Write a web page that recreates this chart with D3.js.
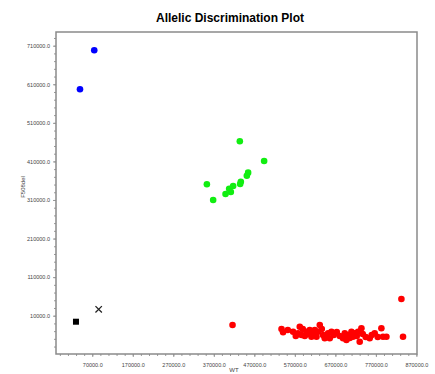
<!DOCTYPE html>
<html>
<head>
<meta charset="utf-8">
<script src="https://cdn.jsdelivr.net/npm/d3@7"></script>
<style>
  body { margin: 0; background: #fff; }
  text { font-family: Arial, "Liberation Sans", sans-serif; }
</style>
</head>
<body>
<script>
// chart data (WT signal, F508del signal)
var f508delX = [74900, 39700];
var f508delY = [698100, 597000];

var heteroX = [434200, 494200, 352900, 368400, 454700, 451500, 436700, 435000, 417700, 407900, 412000, 399000];
var heteroY = [462200, 411100, 350700, 310000, 380800, 373000, 357400, 351500, 346300, 339300, 330700, 325500];

var wtX = [416200, 833000, 837000,
  537100, 541000, 565700, 582200, 578000, 586400, 598700, 606800, 615000, 631500, 627300, 639600,
  652000, 656200, 643800, 660400, 693200, 689000, 701300, 709700, 717800, 726000, 734300, 730100,
  754800, 767100, 783600, 787600, 796000, 611000, 594500, 623400, 697300, 713600,
  552600, 572300, 589600, 601900, 619200, 636500, 648800, 666100, 673500, 680900, 705600, 722800,
  737600, 745000, 759800, 774600];
var wtY = [-14100, 53300, -44400,
  -24500, -33000, -31500, -18500, -35600, -40000, -31500, -27100, -35600, -14100, -31500, -40000,
  -35600, -48600, -48600, -31500, -35600, -48600, -40000, -31500, -35600, -31500, -22700, -57400,
  -48600, -35600, -22700, -44500, -44500, -44500, -42600, -44500, -53000, -44500,
  -27100, -42600, -24500, -37500, -27100, -24500, -42600, -40000, -32200, -42600, -47800, -42600,
  -37500, -45300, -40000, -45300];

var ntcX = [29800];
var ntcY = [-5600];
var undetX = [85800];
var undetY = [26600];

var xMajor = [70000, 170000, 270000, 370000, 470000, 570000, 670000, 770000, 870000];
var yMajor = [10000, 110000, 210000, 310000, 410000, 510000, 610000, 710000];

// chart dimensions
var svgWidth = 435;
var svgHeight = 374;
var margin = { top: 32, right: 18, bottom: 20, left: 56 };
var chartWidth = svgWidth - margin.left - margin.right;
var chartHeight = svgHeight - margin.top - margin.bottom;

var svg = d3.select("body")
  .append("svg")
  .attr("width", svgWidth)
  .attr("height", svgHeight);

var chartGroup = svg.append("g")
  .attr("transform", `translate(${margin.left}, ${margin.top})`);

var xScale = d3.scaleLinear()
  .domain([-19500, 871500])
  .range([0, chartWidth]);

var yScale = d3.scaleLinear()
  .domain([-89300, 745500])
  .range([chartHeight, 0]);

// minor ticks every 20000
var xMinor = d3.range(-10000, 871000, 20000);
var yMinor = d3.range(-70000, 745000, 20000);

function styleAxis(g) {
  g.select(".domain").remove();
  g.selectAll("line").attr("stroke", "#999");
  g.selectAll("text")
    .attr("fill", "#444")
    .style("font-size", "5.5px");
}

chartGroup.append("g")
  .attr("transform", `translate(0, ${chartHeight})`)
  .call(d3.axisBottom(xScale).tickValues(xMinor).tickSize(2).tickFormat(""))
  .call(styleAxis);

chartGroup.append("g")
  .attr("transform", `translate(0, ${chartHeight})`)
  .call(d3.axisBottom(xScale).tickValues(xMajor).tickSize(3).tickPadding(6)
    .tickFormat(d => d.toFixed(1)))
  .call(styleAxis);

chartGroup.append("g")
  .call(d3.axisLeft(yScale).tickValues(yMinor).tickSize(2).tickFormat(""))
  .call(styleAxis);

chartGroup.append("g")
  .call(d3.axisLeft(yScale).tickValues(yMajor).tickSize(3).tickPadding(3)
    .tickFormat(d => d.toFixed(1)))
  .call(styleAxis);

// frame
chartGroup.append("rect")
  .attr("width", chartWidth)
  .attr("height", chartHeight)
  .attr("fill", "none")
  .attr("stroke", "#8a8a8a")
  .attr("stroke-width", 1.5);

function drawDots(xs, ys, color) {
  chartGroup.append("g").selectAll("circle")
    .data(xs.map((d, i) => [d, ys[i]]))
    .enter()
    .append("circle")
    .attr("cx", d => xScale(d[0]))
    .attr("cy", d => yScale(d[1]))
    .attr("r", 3.3)
    .attr("fill", color);
}

drawDots(wtX, wtY, "#ff0000");
drawDots(heteroX, heteroY, "#11ee11");
drawDots(f508delX, f508delY, "#0000ff");

// no template control
chartGroup.selectAll(".ntc")
  .data(ntcX.map((d, i) => [d, ntcY[i]]))
  .enter()
  .append("rect")
  .attr("x", d => xScale(d[0]) - 3)
  .attr("y", d => yScale(d[1]) - 3)
  .attr("width", 6)
  .attr("height", 6)
  .attr("fill", "#000");

// undetermined
chartGroup.selectAll(".undet")
  .data(undetX.map((d, i) => [d, undetY[i]]))
  .enter()
  .append("path")
  .attr("d", d => {
    var cx = xScale(d[0]), cy = yScale(d[1]), s = 3.2;
    return `M${cx - s},${cy - s}L${cx + s},${cy + s}M${cx - s},${cy + s}L${cx + s},${cy - s}`;
  })
  .attr("stroke", "#222")
  .attr("stroke-width", 1.3);

// title and labels
svg.append("text")
  .attr("x", 230)
  .attr("y", 22)
  .attr("text-anchor", "middle")
  .style("font-size", "12px")
  .style("font-weight", "bold")
  .text("Allelic Discrimination Plot");

svg.append("text")
  .attr("transform", "translate(25, 187) rotate(-90)")
  .attr("text-anchor", "middle")
  .attr("fill", "#444")
  .style("font-size", "6px")
  .text("F508del");

svg.append("text")
  .attr("x", 234)
  .attr("y", 372)
  .attr("text-anchor", "middle")
  .attr("fill", "#444")
  .style("font-size", "6px")
  .text("WT");
</script>
</body>
</html>
